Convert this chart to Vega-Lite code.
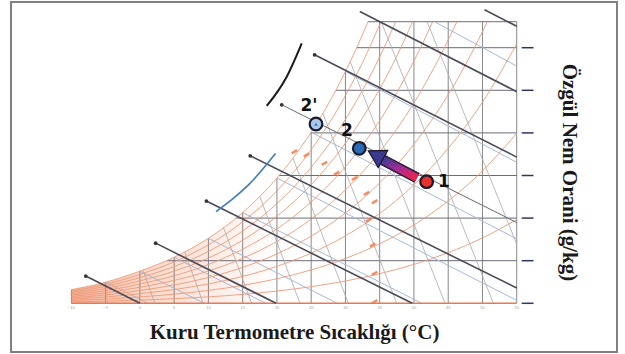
{
  "$schema": "https://vega.github.io/schema/vega-lite/v6.json",
  "width": 606,
  "height": 350,
  "autosize": {"type": "none"},
  "padding": {"left": 11, "top": 2, "right": 8, "bottom": 2},
  "background": "white",
  "config": {"view": {"stroke": "#808080", "strokeWidth": 2}},
  "datasets": {
    "rh": [
      {"c":10,"t":-10,"w":0.160},{"c":10,"t":-5,"w":0.247},{"c":10,"t":0,"w":0.375},{"c":10,"t":5,"w":0.536},{"c":10,"t":10,"w":0.755},{"c":10,"t":15,"w":1.049},{"c":10,"t":20,"w":1.439},{"c":10,"t":25,"w":1.952},{"c":10,"t":30,"w":2.618},{"c":10,"t":35,"w":3.474},{"c":10,"t":40,"w":4.566},{"c":10,"t":45,"w":5.946},{"c":10,"t":50,"w":7.675},{"c":10,"t":55,"w":9.828},
      {"c":20,"t":-10,"w":0.319},{"c":20,"t":-5,"w":0.494},{"c":20,"t":0,"w":0.751},{"c":20,"t":5,"w":1.073},{"c":20,"t":10,"w":1.512},{"c":20,"t":15,"w":2.101},{"c":20,"t":20,"w":2.885},{"c":20,"t":25,"w":3.916},{"c":20,"t":30,"w":5.258},{"c":20,"t":35,"w":6.988},{"c":20,"t":40,"w":9.200},{"c":20,"t":45,"w":12.006},{"c":20,"t":50,"w":15.543},{"c":20,"t":55,"w":19.972},
      {"c":30,"t":-10,"w":0.479},{"c":30,"t":-5,"w":0.741},{"c":30,"t":0,"w":1.128},{"c":30,"t":5,"w":1.611},{"c":30,"t":10,"w":2.270},{"c":30,"t":15,"w":3.157},{"c":30,"t":20,"w":4.338},{"c":30,"t":25,"w":5.893},{"c":30,"t":30,"w":7.920},{"c":30,"t":35,"w":10.541},{"c":30,"t":40,"w":13.903},{"c":30,"t":45,"w":18.186},{"c":30,"t":50,"w":23.609},{"c":30,"t":55,"w":30.446},
      {"c":40,"t":-10,"w":0.639},{"c":40,"t":-5,"w":0.988},{"c":40,"t":0,"w":1.504},{"c":40,"t":5,"w":2.150},{"c":40,"t":10,"w":3.030},{"c":40,"t":15,"w":4.217},{"c":40,"t":20,"w":5.797},{"c":40,"t":25,"w":7.882},{"c":40,"t":30,"w":10.605},{"c":40,"t":35,"w":14.135},{"c":40,"t":40,"w":18.677},{"c":40,"t":45,"w":24.486},{"c":40,"t":50,"w":31.882},{"c":40,"t":50.7,"w":33.05},
      {"c":50,"t":-10,"w":0.799},{"c":50,"t":-5,"w":1.236},{"c":50,"t":0,"w":1.882},{"c":50,"t":5,"w":2.690},{"c":50,"t":10,"w":3.793},{"c":50,"t":15,"w":5.280},{"c":50,"t":20,"w":7.264},{"c":50,"t":25,"w":9.884},{"c":50,"t":30,"w":13.313},{"c":50,"t":35,"w":17.770},{"c":50,"t":40,"w":23.522},{"c":50,"t":45,"w":30.912},{"c":50,"t":46.27,"w":33.05},
      {"c":60,"t":-10,"w":0.959},{"c":60,"t":-5,"w":1.483},{"c":60,"t":0,"w":2.259},{"c":60,"t":5,"w":3.231},{"c":60,"t":10,"w":4.557},{"c":60,"t":15,"w":6.347},{"c":60,"t":20,"w":8.737},{"c":60,"t":25,"w":11.898},{"c":60,"t":30,"w":16.045},{"c":60,"t":35,"w":21.446},{"c":60,"t":40,"w":28.442},{"c":60,"t":41.5,"w":30.88},{"c":60,"t":42.72,"w":33.05},
      {"c":70,"t":-10,"w":1.119},{"c":70,"t":-5,"w":1.731},{"c":70,"t":0,"w":2.638},{"c":70,"t":5,"w":3.772},{"c":70,"t":10,"w":5.323},{"c":70,"t":15,"w":7.417},{"c":70,"t":20,"w":10.217},{"c":70,"t":25,"w":13.925},{"c":70,"t":30,"w":18.800},{"c":70,"t":35,"w":25.165},{"c":70,"t":37.5,"w":29.01},{"c":70,"t":39.79,"w":33.05},
      {"c":80,"t":-10,"w":1.279},{"c":80,"t":-5,"w":1.979},{"c":80,"t":0,"w":3.016},{"c":80,"t":5,"w":4.315},{"c":80,"t":10,"w":6.091},{"c":80,"t":15,"w":8.491},{"c":80,"t":20,"w":11.704},{"c":80,"t":25,"w":15.966},{"c":80,"t":30,"w":21.579},{"c":80,"t":35,"w":28.927},{"c":80,"t":36,"w":30.63},{"c":80,"t":37.33,"w":33.05},
      {"c":90,"t":-10,"w":1.439},{"c":90,"t":-5,"w":2.227},{"c":90,"t":0,"w":3.395},{"c":90,"t":5,"w":4.859},{"c":90,"t":10,"w":6.860},{"c":90,"t":15,"w":9.569},{"c":90,"t":20,"w":13.198},{"c":90,"t":25,"w":18.020},{"c":90,"t":30,"w":24.382},{"c":90,"t":32.5,"w":28.27},{"c":90,"t":35.18,"w":33.05},
      {"c":100,"t":-10,"w":1.600},{"c":100,"t":-5,"w":2.476},{"c":100,"t":0,"w":3.775},{"c":100,"t":5,"w":5.403},{"c":100,"t":10,"w":7.632},{"c":100,"t":15,"w":10.650},{"c":100,"t":20,"w":14.699},{"c":100,"t":25,"w":20.086},{"c":100,"t":27.5,"w":23.39},{"c":100,"t":30,"w":27.210},{"c":100,"t":32,"w":30.643},{"c":100,"t":33.28,"w":33.05}
    ],
    "db": [
      {"t":-10,"w":0,"w2":1.6},{"t":-5,"w":0,"w2":2.476},{"t":0,"w":0,"w2":3.775},{"t":5,"w":0,"w2":5.403},{"t":10,"w":0,"w2":7.632},{"t":15,"w":0,"w2":10.65},{"t":20,"w":0,"w2":14.699},{"t":25,"w":0,"w2":20.086},{"t":30,"w":0,"w2":27.21},{"t":35,"w":0,"w2":33.05},{"t":40,"w":0,"w2":33.05},{"t":45,"w":0,"w2":33.05},{"t":50,"w":0,"w2":33.05},{"t":55,"w":0,"w2":33.05}
    ],
    "hw": [
      {"t":3.9,"t2":55,"w":5},{"t":14.04,"t2":55,"w":10},{"t":20.32,"t2":55,"w":15},{"t":24.93,"t2":55,"w":20},{"t":28.59,"t2":55,"w":25},{"t":31.64,"t2":55,"w":30},{"t":33.28,"t2":55,"w":33.05}
    ],
    "base": [{"t":-10,"t2":55,"w":0}],
    "vol": [
      {"v":0.78,"t":0.45,"w":3.88,"t2":2.18,"w2":0},
      {"v":0.80,"t":6.55,"w":6.0,"t2":9.24,"w2":0},
      {"v":0.82,"t":12.2,"w":8.9,"t2":16.30,"w2":0},
      {"v":0.84,"t":17.5,"w":12.53,"t2":23.36,"w2":0},
      {"v":0.86,"t":22.35,"w":17.02,"t2":30.42,"w2":0},
      {"v":0.88,"t":26.7,"w":22.3,"t2":37.48,"w2":0},
      {"v":0.90,"t":30.72,"w":28.3,"t2":44.54,"w2":0},
      {"v":0.92,"t":35.22,"w":33.05,"t2":51.60,"w2":0},
      {"v":0.94,"t":41.92,"w":33.05,"t2":55,"w2":6.94}
    ],
    "wb": [
      {"twb":-5,"t":-5,"w":2.476,"t2":1.18,"w2":0},
      {"twb":0,"t":0,"w":3.775,"t2":9.39,"w2":0},
      {"twb":5,"t":5,"w":5.403,"t2":18.37,"w2":0},
      {"twb":10,"t":10,"w":7.632,"t2":28.80,"w2":0},
      {"twb":15,"t":15,"w":10.65,"t2":41.11,"w2":0},
      {"twb":20,"t":20,"w":14.699,"t2":55,"w2":0.345},
      {"twb":25,"t":25,"w":20.086,"t2":55,"w2":7.559},
      {"twb":30,"t":30,"w":27.21,"t2":55,"w2":16.55},
      {"twb":35,"t":43,"w":33.05,"t2":55,"w2":27.84}
    ],
    "enth": [
      {"h":0,"t":-7.9,"w":3.2,"t2":0,"w2":0},
      {"h":20,"t":2.3,"w":7.06,"t2":19.88,"w2":0},
      {"h":40,"t":9.7,"w":12.0,"t2":39.76,"w2":0},
      {"h":60,"t":16.1,"w":17.31,"t2":55,"w2":1.79},
      {"h":80,"t":20.7,"w":23.3,"t2":55,"w2":9.48},
      {"h":100,"t":25.5,"w":29.17,"t2":55,"w2":17.16},
      {"h":120,"t":32.1,"w":34.25,"t2":55,"w2":24.84},
      {"h":140,"t":50.3,"w":34.46,"t2":55,"w2":32.52}
    ],
    "arc": [
      {"t":11.11,"w":10.77},{"t":13.63,"w":12.32},{"t":16.07,"w":14.08},{"t":19.79,"w":17.58}
    ],
    "blk": [
      {"t":18.51,"w":23.16},{"t":21.43,"w":26.6},{"t":23.62,"w":30.52}
    ],
    "ticks": [
      {"t":55.73,"t2":57.45,"w":0},{"t":55.73,"t2":57.45,"w":5},{"t":55.73,"t2":57.45,"w":10},{"t":55.73,"t2":57.45,"w":15},{"t":55.73,"t2":57.45,"w":20},{"t":55.73,"t2":57.45,"w":25},{"t":55.73,"t2":57.45,"w":30}
    ],
    "sm": [
      {"t":22.56,"w":17.79},{"t":24.32,"w":17.41},{"t":26.94,"w":16.43},{"t":28.7,"w":15.26},{"t":31.34,"w":14.67},{"t":33.09,"w":12.91},{"t":34.26,"w":11.92},{"t":33.38,"w":9.77},{"t":33.96,"w":6.84},{"t":34.26,"w":3.52},{"t":34.26,"w":0.19}
    ],
    "arrow": [{"t":35.3,"w":16.9},{"t":40.44,"w":14.71}],
    "head": [{"t":34.4,"w":17.42}],
    "pts": [
      {"id":"1","t":41.85,"w":14.28},{"id":"2","t":32.02,"w":18.19},{"id":"2'","t":25.7,"w":21.04}
    ],
    "lbl": [
      {"label":"1","t":44.39,"w":14.23},{"label":"2","t":30.23,"w":20.22},{"label":"2'","t":24.68,"w":23.16}
    ]
  },
  "encoding": {
    "x": {
      "field": "t", "type": "quantitative",
      "scale": {"domain": [-18.816, 69.638], "nice": false, "zero": false},
      "axis": {"orient": "bottom", "title": "Kuru Termometre Sıcaklığı (°C)", "labels": false, "ticks": false, "domain": false, "grid": false,
               "titleFont": "Liberation Serif", "titleFontSize": 21, "titleFontWeight": "bold", "titleColor": "#1a1a1a",
               "titleX": 283, "titleY": -20, "titleBaseline": "middle", "titleAlign": "center", "titleLimit": 1000}
    },
    "y": {
      "field": "w", "type": "quantitative",
      "scale": {"domain": [-5.716, 35.364], "nice": false, "zero": false},
      "axis": {"orient": "right", "title": "Özgül Nem Orani (g/kg)", "labels": false, "ticks": false, "domain": false, "grid": false,
               "titleFont": "Liberation Serif", "titleFontSize": 21, "titleFontWeight": "bold", "titleColor": "#1a1a1a",
               "titleAngle": 90, "titleX": -49, "titleY": 170, "titleBaseline": "middle", "titleAlign": "center", "titleLimit": 1000}
    }
  },
  "layer": [
    {
      "data": {"name": "rh"},
      "transform": [{"filter": "datum.c == 100 && datum.t <= 22"}],
      "mark": {"type": "area", "interpolate": "monotone",
               "fill": {"gradient": "linear", "x1": 0, "y1": 0, "x2": 1, "y2": 0,
                        "stops": [{"offset": 0, "color": "#f4b29a"}, {"offset": 0.3, "color": "#f8d4c5"}, {"offset": 1, "color": "#ffffff"}]}},
      "encoding": {"y2": {"datum": 0}}
    },
    {"data": {"name": "db"}, "mark": {"type": "rule", "color": "#7a7a7a", "strokeWidth": 0.9}, "encoding": {"y2": {"field": "w2"}}},
    {"data": {"name": "hw"}, "mark": {"type": "rule", "color": "#6c6c78", "strokeWidth": 1}, "encoding": {"x2": {"field": "t2"}}},
    {"data": {"name": "vol"}, "mark": {"type": "rule", "color": "#a8a8a8", "strokeWidth": 0.8}, "encoding": {"x2": {"field": "t2"}, "y2": {"field": "w2"}}},
    {"data": {"name": "wb"}, "mark": {"type": "rule", "color": "#a6b8d8", "strokeWidth": 1}, "encoding": {"x2": {"field": "t2"}, "y2": {"field": "w2"}}},
    {"data": {"name": "rh"}, "mark": {"type": "line", "color": "#ee9a76", "strokeWidth": 0.9, "interpolate": "monotone"}, "encoding": {"detail": {"field": "c", "type": "nominal"}}},
    {"data": {"name": "base"}, "mark": {"type": "rule", "color": "#e97a50", "strokeWidth": 1.6}, "encoding": {"x2": {"field": "t2"}}},
    {"data": {"name": "enth"}, "transform": [{"filter": "datum.h != 80"}], "mark": {"type": "rule", "color": "#4b4b58", "strokeWidth": 1.6}, "encoding": {"x2": {"field": "t2"}, "y2": {"field": "w2"}}},
    {"data": {"name": "enth"}, "transform": [{"filter": "datum.h == 80"}], "mark": {"type": "rule", "color": "#6a6a78", "strokeWidth": 1}, "encoding": {"x2": {"field": "t2"}, "y2": {"field": "w2"}}},
    {"data": {"name": "enth"}, "transform": [{"filter": "datum.h <= 100"}], "mark": {"type": "point", "filled": true, "color": "#333333", "size": 14, "opacity": 1}},
    {"data": {"name": "arc"}, "mark": {"type": "line", "color": "#3d7cc4", "strokeWidth": 1.6, "interpolate": "monotone"}},
    {"data": {"name": "blk"}, "mark": {"type": "line", "color": "#1a1a1a", "strokeWidth": 2, "interpolate": "monotone"}},
    {"data": {"name": "ticks"}, "mark": {"type": "rule", "color": "#2e3566", "strokeWidth": 1.5}, "encoding": {"x2": {"field": "t2"}}},
    {"data": {"name": "db"}, "mark": {"type": "text", "fontSize": 4, "color": "#a0a0a0"}, "encoding": {"y": {"datum": -0.6}, "text": {"field": "t", "type": "quantitative"}}},
    {"data": {"name": "sm"}, "mark": {"type": "point", "filled": true, "shape": "M-1,-0.4L1,-0.4L1,0.4L-1,0.4Z", "size": 40, "angle": 330, "color": "#f07a4a", "opacity": 0.85}},
    {"data": {"name": "arrow"}, "mark": {"type": "line", "color": "#2a2040", "strokeWidth": 11, "strokeCap": "butt"}},
    {"data": {"name": "arrow"}, "mark": {"type": "line", "strokeWidth": 8, "strokeCap": "butt",
      "stroke": {"gradient": "linear", "x1": 1, "y1": 1, "x2": 0, "y2": 0,
                 "stops": [{"offset": 0, "color": "#ee2449"}, {"offset": 0.45, "color": "#b02a8e"}, {"offset": 1, "color": "#3f3a98"}]}}},
    {"data": {"name": "head"}, "mark": {"type": "point", "shape": "triangle-up", "size": 380, "angle": 299, "filled": true, "fill": "#3c3a8c", "stroke": "#1a1530", "strokeWidth": 1.2, "opacity": 1}},
    {"data": {"name": "pts"}, "mark": {"type": "point", "shape": "circle", "size": 160, "filled": true, "stroke": "#1c1a2e", "strokeWidth": 2.2, "opacity": 1},
     "encoding": {"fill": {"field": "id", "type": "nominal", "scale": {"domain": ["1", "2", "2'"], "range": ["#e8312a", "#2a6ab8", "#a9c8ea"]}, "legend": null}}},
    {"data": {"name": "pts"}, "transform": [{"filter": "datum.id == \"2'\""}], "mark": {"type": "point", "shape": "triangle-up", "size": 14, "filled": true, "color": "#4a7ab8", "opacity": 1}},
    {"data": {"name": "lbl"}, "mark": {"type": "text", "font": "DejaVu Sans", "fontWeight": "bold", "fontSize": 17, "color": "#111111", "baseline": "middle", "align": "center"}, "encoding": {"text": {"field": "label"}}}
  ]
}
